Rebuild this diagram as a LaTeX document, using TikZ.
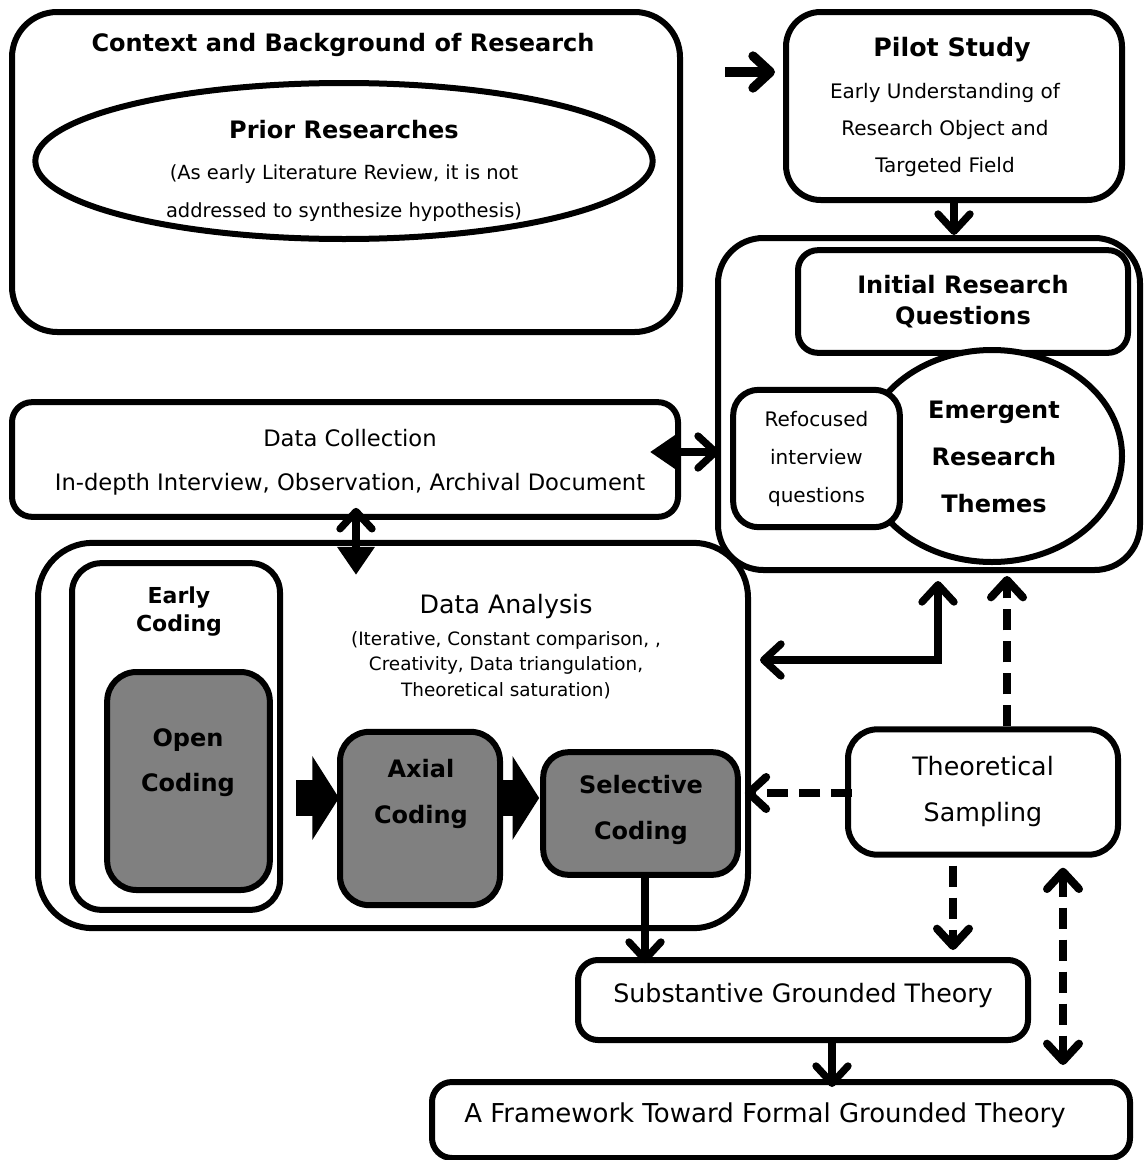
\documentclass[tikz,border=0pt]{standalone}
\usepackage{fontspec}
\setmainfont{DejaVu Sans}
\usetikzlibrary{arrows.meta,shapes.geometric,calc}

\newcommand\fsz[2]{\fontsize{#1}{#2}\selectfont}

\tikzset{
  barbtip/.tip={Straight Barb[length=13pt,width=24pt,round]},
  tritip/.tip={Triangle[length=21pt,width=27pt]},
  box/.style={draw, line width=4.5pt, fill=white, inner sep=0pt, rounded corners=#1},
  box/.default=15pt,
  greybox/.style={box=#1, fill=black!50},
  lbl/.style={align=center, inner sep=0pt},
  link/.style={line width=5.5pt},
  dlink/.style={line width=6pt, dash pattern=on 16pt off 8pt},
  blockarrow/.style={line width=27pt, -{Triangle[length=20pt,width=62pt]}},
}

\begin{document}
\begin{tikzpicture}[x=0.75pt,y=-0.75pt]
\useasboundingbox (0,0) rectangle (1145,1160);

% ---- context and prior research ----
\node[box=34pt, minimum width=501pt, minimum height=240pt] (ctx) at (346,172) {};
\node[lbl, font=\bfseries\fsz{18pt}{21pt}] (ctxt) at (343,45) {Context and Background of Research};
\node[draw, ellipse, line width=4.5pt, inner sep=0pt, minimum width=463pt, minimum height=117pt] (prior) at (344,161) {};
\node[lbl, font=\bfseries\fsz{18pt}{21pt}] (priort) at (344,130) {Prior Researches};
\node[lbl, font=\fsz{14.6pt}{28.5pt}] (priorn) at (344,193) {(As early Literature Review, it is not\\addressed to synthesize hypothesis)};

% ---- pilot study ----
\node[box=26pt, minimum width=252pt, minimum height=141pt] (pilot) at (954,106) {};
\node[lbl, font=\bfseries\fsz{19pt}{22pt}] (pilott) at (952,50) {Pilot Study};
\node[lbl, font=\fsz{15pt}{28pt}] (pilotn) at (945,130) {Early Understanding of\\Research Object and\\Targeted Field};

% ---- research questions and themes ----
\node[box=34pt, minimum width=316.5pt, minimum height=249pt] (rq) at (929,404) {};
\node[box=15pt, minimum width=247.5pt, minimum height=77pt, lbl, font=\bfseries\fsz{18pt}{23pt}] (irq) at (963,301.5) {Initial Research\\Questions};
\node[draw, ellipse, line width=4.5pt, fill=white, inner sep=0pt, minimum width=195pt, minimum height=159pt] (themes) at (992,456) {};
\node[lbl, font=\bfseries\fsz{18pt}{35pt}] (themest) at (994,457) {Emergent\\Research\\Themes};
\node[box=19pt, minimum width=125pt, minimum height=103pt, lbl, font=\fsz{15pt}{28.5pt}] (refocus) at (816.5,458.5) {Refocused\\interview\\questions};

% ---- data collection ----
\node[box=15pt, minimum width=499.5pt, minimum height=86pt] (dcol) at (345,459.5) {};
\node[lbl, font=\fsz{17pt}{33pt}] (dcolt) at (350,462) {Data Collection\\In-depth Interview, Observation, Archival Document};

% ---- data analysis ----
\node[box=41pt, minimum width=532.5pt, minimum height=289pt] (dana) at (393,735.5) {};
\node[lbl, font=\fsz{19pt}{22pt}] (danat) at (506,607) {Data Analysis};
\node[lbl, font=\fsz{13.8pt}{19pt}] (danan) at (506,665) {(Iterative, Constant comparison, ,\\Creativity, Data triangulation,\\Theoretical saturation)};
\node[box=22pt, minimum width=156pt, minimum height=260pt] (early) at (176,736.5) {};
\node[lbl, font=\bfseries\fsz{16.5pt}{21pt}] (earlyt) at (179,612) {Early\\Coding};
\node[greybox=22pt, minimum width=122pt, minimum height=163.5pt] (open) at (188.5,781) {};
\node[lbl, font=\bfseries\fsz{18pt}{34pt}] (opent) at (188,763) {Open\\Coding};
\node[greybox=22pt, minimum width=120pt, minimum height=130pt] (axial) at (420,818.5) {};
\node[lbl, font=\bfseries\fsz{18pt}{34pt}] (axialt) at (421,794) {Axial\\Coding};
\node[greybox=19pt, minimum width=146pt, minimum height=92pt] (selective) at (640.5,813.5) {};
\node[lbl, font=\bfseries\fsz{18pt}{34pt}] (selectivet) at (641,810) {Selective\\Coding};

% ---- theoretical sampling and theory ----
\node[box=22pt, minimum width=202.5pt, minimum height=94pt, lbl, font=\fsz{19pt}{34.5pt}] (theo) at (983,792) {Theoretical\\Sampling};
\node[box=15pt, minimum width=337.5pt, minimum height=60pt] (subst) at (803,1000) {};
\node[lbl, font=\fsz{19pt}{22pt}] (substt) at (803,995) {Substantive Grounded Theory};
\node[box=15pt, minimum width=523.5pt, minimum height=57pt] (frame) at (781,1120) {};
\node[lbl, font=\fsz{19.5pt}{22pt}] (framet) at (765,1115) {A Framework Toward Formal Grounded Theory};

% ---- connectors ----
\coordinate (toparrow) at (725,72);
\draw[line width=7pt, -{barbtip}] (toparrow) -- ($(pilot.west |- toparrow)+(-8,0)$);
\draw[link, -{barbtip}] (pilot.south) -- (pilot.south |- rq.north);

\coordinate (hlev) at (0,452);
\draw[link, {tritip}-{barbtip}] ($(dcol.east |- hlev)+(-31,0)$) -- ($(rq.west |- hlev)+(4,0)$);

\coordinate (vlev) at (356,0);
\draw[link, {barbtip}-{tritip}] ($(dcol.south -| vlev)+(0,-12)$) -- ($(dana.north -| vlev)+(0,35)$);

\coordinate (lcorner) at (938,660);
\draw[link, {barbtip}-{barbtip}] ($(dana.east |- lcorner)+(9,0)$) -- (lcorner) -- ($(rq.south -| lcorner)+(0,8)$);

\coordinate (upline) at (1007,0);
\draw[dlink, -{barbtip}] (theo.north -| upline) -- ($(rq.south -| upline)+(0,3)$);

\coordinate (sideline) at (0,793);
\draw[dlink, -{barbtip}] ($(theo.west |- sideline)+(7,0)$) -- ($(selective.east |- sideline)+(4,0)$);

\coordinate (downline) at (953,0);
\draw[dlink, -{barbtip}] ($(theo.south -| downline)+(0,8)$) -- ($(subst.north -| downline)+(0,-7)$);

\coordinate (bothline) at (1063,0);
\draw[dlink, {barbtip}-{barbtip}] ($(theo.south -| bothline)+(0,10)$) -- ($(frame.north -| bothline)+(0,-14)$);

\coordinate (selline) at (645,0);
\draw[link, -{barbtip}] (selective.south -| selline) -- ($(subst.north -| selline)+(0,6)$);

\coordinate (frline) at (832,0);
\draw[link, -{barbtip}] (subst.south -| frline) -- ($(frame.north -| frline)+(0,8)$);

% ---- coding sequence ----
\coordinate (flow) at (0,798);
\draw[blockarrow] ($(early.east |- flow)+(13,0)$) -- ($(axial.west |- flow)+(2,0)$);
\draw[blockarrow] (axial.east |- flow) -- ($(selective.west |- flow)+(-1,0)$);
\end{tikzpicture}
\end{document}
